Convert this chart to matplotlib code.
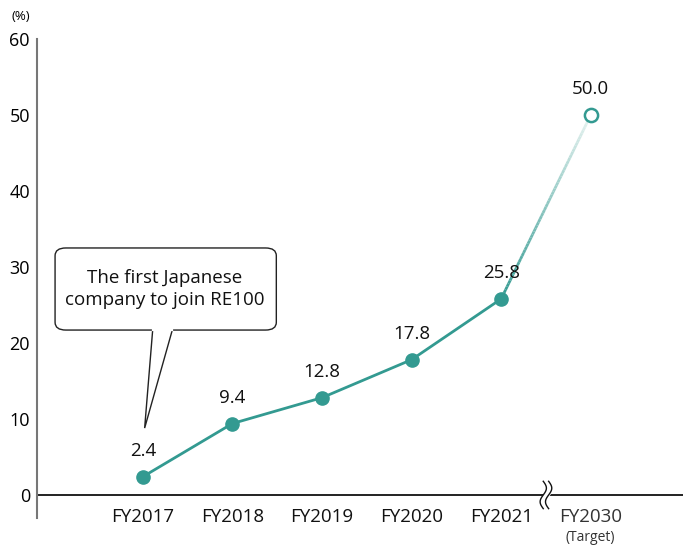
import matplotlib.pyplot as plt
import numpy as np
from matplotlib.collections import LineCollection
from matplotlib.patches import FancyBboxPatch, Polygon

plt.rcParams['font.family'] = ['Open Sans', 'DejaVu Sans']

years = ['FY2017', 'FY2018', 'FY2019', 'FY2020', 'FY2021', 'FY2030']
ratio = [2.4, 9.4, 12.8, 17.8, 25.8, 50.0]
y_ticks = [0, 10, 20, 30, 40, 50, 60]
note = 'The first Japanese\ncompany to join RE100'

teal = '#339a91'
x = np.arange(len(years))

fig = plt.figure(figsize=(6.83, 5.46), dpi=100)
ax = fig.add_axes([0.054, 0.0513, 0.946, 0.8773])
ax.set_xlim(-1.183, 6.03)
ax.set_ylim(-3.03, 60)

# achieved values
ax.plot(x[:-1], ratio[:-1], color=teal, linewidth=2, marker='o', markersize=9.5, zorder=3)

# fading segment towards the target
n = 60
xs = np.linspace(x[-2], x[-1], n + 1)
ys = np.linspace(ratio[-2], ratio[-1], n + 1)
segs = [[(xs[i], ys[i]), (xs[i + 1], ys[i + 1])] for i in range(n)]
c0 = np.array([0x33, 0x9a, 0x91]) / 255
c1 = np.array([0xe6, 0xf2, 0xf0]) / 255
cols = [tuple(c0 + (c1 - c0) * t) for t in np.linspace(0, 1, n)]
ax.add_collection(LineCollection(segs, colors=cols, linewidths=2, zorder=2))
ax.plot(x[-1], ratio[-1], marker='o', markersize=9.5, markerfacecolor='white',
        markeredgecolor=teal, markeredgewidth=1.8, zorder=4)

for xi, v in zip(x, ratio):
    ax.annotate(f'{v:.1f}', (xi, v), xytext=(0, 12), textcoords='offset points',
                ha='center', va='bottom', fontsize=13.5, color='#111111')

# zero line with axis break
ax.axhline(0, color='#111111', linewidth=1.3, zorder=1)
bx = 4.5
t = np.linspace(-1, 1, 50)
wave = 0.035 * np.sin(t * np.pi)
for dx in (-0.03, 0.03):
    ax.plot(bx + dx + wave, t * 1.8, color='#111111', linewidth=1.0, zorder=5)
ax.fill_betweenx(t * 1.8, bx - 0.03 + wave, bx + 0.03 + wave, color='white', zorder=4)

ax.spines['left'].set_color('#777777')
ax.spines['left'].set_linewidth(1.5)
for s in ('top', 'right', 'bottom'):
    ax.spines[s].set_visible(False)

ax.set_yticks(y_ticks)
ax.set_yticklabels([str(v) for v in y_ticks], fontsize=13)
ax.set_xticks([])
ax.tick_params(length=0, pad=5)
for xi, lab in zip(x, years):
    c = '#333333' if lab == years[-1] else '#111111'
    ax.text(xi, -2.9, lab, ha='center', va='center', fontsize=13.5, color=c, clip_on=False)
ax.text(x[-1], -5.6, '(Target)', ha='center', va='center', fontsize=10,
        color='#333333', clip_on=False)
ax.text(-1.36, 62.9, '(%)', ha='center', va='center', fontsize=9.5, clip_on=False)

# callout balloon
box = FancyBboxPatch((-0.98, 21.7), 2.47, 10.8, boxstyle='round,pad=0,rounding_size=0.12',
                     facecolor='white', edgecolor='#222222', linewidth=1.0, zorder=6,
                     mutation_aspect=8.5)
ax.add_patch(box)
ax.add_patch(Polygon([(0.11, 21.75), (0.02, 8.8), (0.33, 21.75)], closed=False,
                     facecolor='white', edgecolor='#222222', linewidth=1.0, zorder=7))
ax.plot([0.115, 0.325], [21.7, 21.7], color='white', linewidth=1.6, zorder=8)
ax.text(0.24, 27.1, note, ha='center', va='center', fontsize=13.5,
        linespacing=1.25, color='#111111', zorder=9)

plt.savefig('out.png', dpi=100)
plt.close()
